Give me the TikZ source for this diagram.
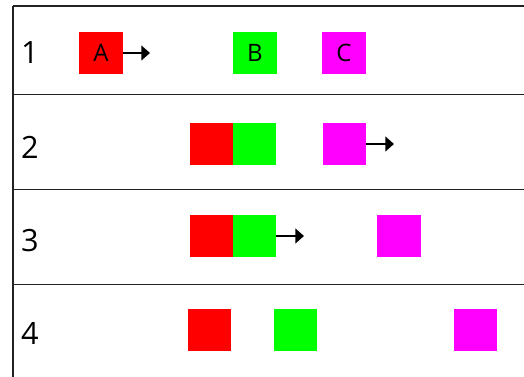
\documentclass[tikz,border=0pt]{standalone}
\usepackage{fontspec}
\setmainfont{Open Sans}
\usepackage{tikz}
\usetikzlibrary{arrows.meta}

\tikzset{
  block/.style={minimum width=32.4pt, minimum height=31.5pt, inner sep=0pt, font=\fontsize{18}{18}\selectfont},
  redblock/.style={block, fill={rgb,255:red,255;green,0;blue,0}},
  greenblock/.style={block, fill={rgb,255:red,0;green,255;blue,0}},
  pinkblock/.style={block, fill={rgb,255:red,255;green,0;blue,255}},
  rowlabel/.style={inner sep=0pt, font=\fontsize{23}{23}\selectfont},
  move/.style={line width=2pt, -{Triangle[length=6.5pt,width=11pt]}},
  rule/.style={line width=1.2pt, color={rgb,255:red,34;green,34;blue,34}}
}

\begin{document}
\begin{tikzpicture}[x=0.75pt,y=0.75pt,yscale=-1,xscale=1]
\useasboundingbox (0,0) rectangle (524,377);

%Straight Lines (frame)
\draw [rule] (13,6) -- (524,6) ;
\draw [rule] (13,94.5) -- (524,94.5) ;
\draw [rule] (13,189.5) -- (524,189.5) ;
\draw [rule] (13,284.5) -- (524,284.5) ;
\draw [rule] (13,6) -- (13,377) ;

% Text Node
\node [rowlabel] (n1) at (30,53) {1};
\node [rowlabel] (n2) at (30,147) {2};
\node [rowlabel] (n3) at (30,241) {3};
\node [rowlabel] (n4) at (30,333) {4};

%Row 1
\node [redblock] (a1) at (101,53) {A};
\node [greenblock] (b1) at (255,53) {B};
\node [pinkblock] (c1) at (344,53) {C};
\coordinate (t1) at (150,53);
\draw [move] (a1.east) -- (t1) ;

%Row 2
\node [redblock] (a2) at (211.5,144) {};
\node [greenblock] (b2) at (254.5,144) {};
\node [pinkblock] (c2) at (344.5,144) {};
\coordinate (t2) at (394,144);
\draw [move] (c2.east) -- (t2) ;

%Row 3
\node [redblock] (a3) at (211.5,236) {};
\node [greenblock] (b3) at (254.5,236) {};
\node [pinkblock] (c3) at (399,236) {};
\coordinate (t3) at (304,236);
\draw [move] (b3.east) -- (t3) ;

%Row 4
\node [redblock] (a4) at (209.5,330) {};
\node [greenblock] (b4) at (295.5,330) {};
\node [pinkblock] (c4) at (475.5,330) {};

\end{tikzpicture}
\end{document}
